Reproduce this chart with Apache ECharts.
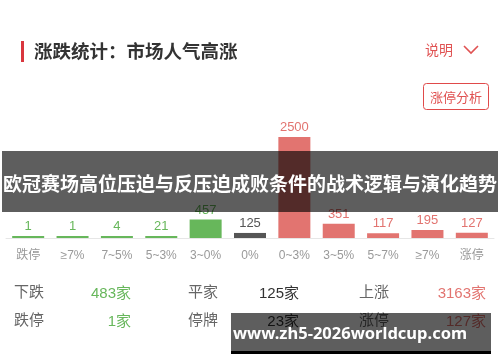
<!DOCTYPE html>
<html>
<head>
<meta charset="utf-8">
<script src="https://cdn.jsdelivr.net/npm/echarts@6/dist/echarts.min.js"></script>
<style>
html,body{margin:0;padding:0;background:#fff;}
#chart{width:500px;height:362px;}
</style>
</head>
<body>
<div id="chart"></div>
<script>
// ---- data ----
const categories = ['跌停', '≥7%', '7~5%', '5~3%', '3~0%', '0%', '0~3%', '3~5%', '5~7%', '≥7%', '涨停'];
const counts = [1, 1, 4, 21, 457, 125, 2500, 351, 117, 195, 127];
const downCount = 5;   // first five categories are declines
const flatIndex = 5;   // the 0% category
const statLabelsRow1 = ['下跌', '平家', '上涨'];
const statValuesRow1 = ['483家', '125家', '3163家'];
const statLabelsRow2 = ['跌停', '停牌', '涨停'];
const statValuesRow2 = ['1家', '23家', '127家'];
const titleText = '涨跌统计：市场人气高涨';
const bannerText = '欧冠赛场高位压迫与反压迫成败条件的战术逻辑与演化趋势';
const watermarkText = 'www.zh5-2026worldcup.com';

// ---- styles ----
const GREEN = '#67b75b';
const GRAY = '#555555';
const RED = '#e27470';
const FONT = '"Liberation Sans", "Noto Sans CJK SC", sans-serif';
function colorAt(i) { return i < downCount ? GREEN : (i === flatIndex ? GRAY : RED); }
const valueColors = [GREEN, '#333333', RED];

const chart = echarts.init(document.getElementById('chart'), null, {renderer: 'canvas'});

const statGraphics = [];
const colX = [14, 188, 359];
const valRight = [131, 299, 486];
[[statLabelsRow1, statValuesRow1, 294], [statLabelsRow2, statValuesRow2, 322]].forEach(function (row) {
  row[0].forEach(function (lab, j) {
    statGraphics.push({type: 'text', left: colX[j], top: row[2] - 9, style: {text: lab, fill: '#666', font: '15px ' + FONT}});
    statGraphics.push({type: 'text', x: valRight[j], y: row[2], style: {text: row[1][j], fill: valueColors[j], font: '15px ' + FONT, align: 'right', verticalAlign: 'middle'}});
  });
});

chart.setOption({
  animation: false,
  backgroundColor: '#fff',
  grid: {left: 6, right: 6, top: 137, bottom: 124, containLabel: false},
  xAxis: {
    type: 'category',
    data: categories,
    axisLine: {lineStyle: {color: '#e6e6e6', width: 1}},
    axisTick: {show: false},
    axisLabel: {color: '#999', fontSize: 12, margin: 12, fontFamily: FONT, interval: 0}
  },
  yAxis: {type: 'value', min: 0, max: 2500, show: false, splitLine: {show: false}},
  series: [{
    type: 'bar',
    barWidth: 32,
    barMinHeight: 2,
    data: counts.map(function (v, i) { return {value: v, itemStyle: {color: colorAt(i)}, label: {color: colorAt(i)}}; }),
    label: {show: true, position: 'top', distance: 3, fontSize: 13, fontFamily: FONT}
  }],
  graphic: [
    {type: 'rect', shape: {x: 21, y: 41, width: 3, height: 21}, style: {fill: '#d9363e'}},
    {type: 'text', x: 34, y: 51, style: {text: titleText, fill: '#333', font: 'bold 18.5px "Noto Sans CJK SC", sans-serif', verticalAlign: 'middle'}},
    {type: 'text', x: 425, y: 50, style: {text: '说明', fill: '#e05252', font: '14px "Noto Sans CJK SC", sans-serif', verticalAlign: 'middle'}},
    {type: 'polyline', shape: {points: [[464, 46], [471, 53], [478, 46]]}, style: {stroke: '#e05252', lineWidth: 1.6, fill: null}},
    {type: 'rect', shape: {x: 423.5, y: 83.5, width: 65, height: 26, r: 3}, style: {fill: '#fff', stroke: '#e04a4a', lineWidth: 1}},
    {type: 'text', x: 456, y: 97, style: {text: '涨停分析', fill: '#e05252', font: '13px "Noto Sans CJK SC", sans-serif', align: 'center', verticalAlign: 'middle'}}
  ].concat(statGraphics).concat([
    {type: 'rect', z: 100, shape: {x: 2, y: 151, width: 496, height: 61}, style: {fill: 'rgba(0,0,0,0.63)'}},
    {type: 'text', z: 101, x: 250, y: 184, style: {text: bannerText, fill: '#fff', font: 'bold 19px "Noto Sans CJK SC", sans-serif', align: 'center', verticalAlign: 'middle'}},
    {type: 'rect', z: 100, shape: {x: 231, y: 313, width: 260, height: 38}, style: {fill: 'rgba(0,0,0,0.63)'}},
    {type: 'rect', z: 100, shape: {x: 231, y: 351, width: 260, height: 3}, style: {fill: '#000'}},
    {type: 'text', z: 101, x: 233, y: 334, style: {text: watermarkText, fill: '#fff', font: 'bold 16.5px "Noto Sans", sans-serif', verticalAlign: 'middle'}}
  ])
});
</script>
</body>
</html>
